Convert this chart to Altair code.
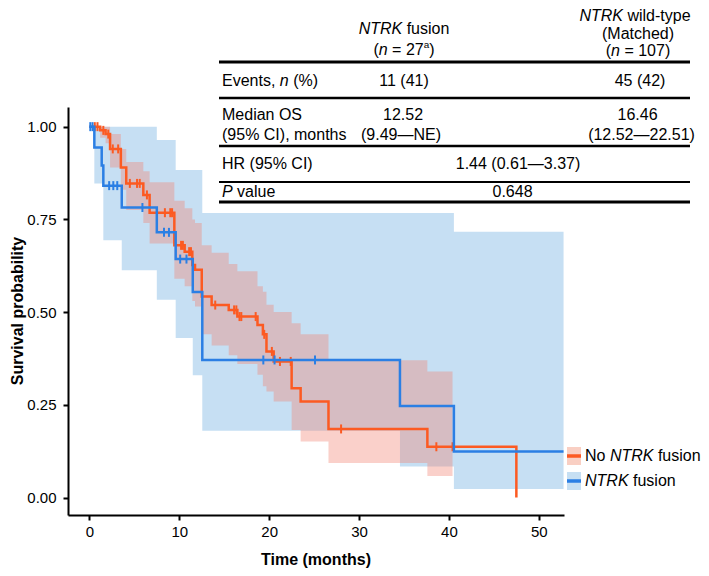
import altair as alt
import pandas as pd

FONT = "Liberation Sans"
ORANGE = "#FC5A22"
BLUE = "#2B7FE4"
BLUE_CI = "#C6DFF3"
ORANGE_CI = "#F2806E"
ORANGE_CI_ALPHA = 0.37

# ---------------- data ----------------
# NTRK fusion (blue) Kaplan-Meier step function
fus_time = [0.0, 0.55, 1.37, 1.55, 3.6, 7.5, 9.6, 11.5, 12.56, 34.55, 40.55, 52.75]
fus_surv = [1.0, 0.944, 0.895, 0.841, 0.782, 0.715, 0.643, 0.554, 0.371, 0.247, 0.124, 0.124]
fus_lower = [1.0, 0.847, 0.847, 0.694, 0.613, 0.533, 0.43, 0.33, 0.18, 0.084, 0.023, 0.023]
fus_upper = [1.0, 1.0, 1.0, 1.0, 1.0, 0.964, 0.883, 0.883, 0.767, 0.767, 0.717, 0.717]
fus_cens_time = [0.1, 0.35, 2.2, 2.66, 3.1, 5.9, 8.3, 8.85, 10.1, 10.8, 19.35, 20.6, 25.1]
fus_cens_surv = [1.0, 1.0, 0.841, 0.841, 0.841, 0.782, 0.715, 0.715, 0.643, 0.643, 0.371, 0.371, 0.371]

# No NTRK fusion (orange) Kaplan-Meier step function
nof_time = [0.0, 1.2, 1.8, 2.3, 3.5, 4.1, 6.0, 6.7, 9.45, 10.6, 11.45, 11.75, 12.5, 13.6,
            15.5, 16.46, 18.7, 19.3, 19.7, 20.5, 22.5, 23.5, 26.6, 37.6, 47.5]
nof_surv = [1.0, 0.99, 0.98, 0.94, 0.89, 0.847, 0.816, 0.768, 0.68, 0.663, 0.627, 0.614, 0.542, 0.519,
            0.506, 0.488, 0.465, 0.44, 0.394, 0.367, 0.295, 0.259, 0.185, 0.137, 0.0]
nof_ci_time = [0.0, 1.2, 1.8, 2.3, 3.5, 4.1, 6.0, 6.7, 9.45, 10.6, 11.45, 11.75, 12.5, 13.6,
               15.5, 16.46, 18.7, 19.3, 19.7, 20.5, 22.5, 23.5, 26.6, 37.6, 40.4]
nof_lower = [1.0, 0.97, 0.955, 0.89, 0.83, 0.775, 0.74, 0.685, 0.59, 0.57, 0.53, 0.515, 0.44, 0.41,
             0.384, 0.36, 0.331, 0.30, 0.286, 0.259, 0.182, 0.151, 0.093, 0.058, 0.058]
nof_upper = [1.0, 1.0, 1.0, 0.98, 0.94, 0.905, 0.88, 0.85, 0.80, 0.78, 0.75, 0.74, 0.68, 0.66,
             0.63, 0.61, 0.57, 0.555, 0.52, 0.50, 0.47, 0.44, 0.37, 0.34, 0.34]
nof_cens_time = [0.6, 0.9, 1.55, 2.1, 2.6, 3.2, 4.5, 5.3, 5.6, 6.4, 8.4, 9.0, 9.2, 10.2, 10.4, 11.1, 11.3,
                 14.0, 16.1, 16.35, 16.7, 16.9, 18.5, 19.45, 20.3, 21.2, 22.4, 28.0, 38.6, 40.4]
nof_cens_surv = [1.0, 1.0, 0.99, 0.98, 0.94, 0.94, 0.847, 0.847, 0.847, 0.816, 0.768, 0.768, 0.768, 0.68, 0.68,
                 0.663, 0.663, 0.519, 0.506, 0.506, 0.488, 0.488, 0.488, 0.44, 0.394, 0.367, 0.367, 0.185,
                 0.137, 0.137]

x_ticks = [0, 10, 20, 30, 40, 50]
y_ticks = [0.0, 0.25, 0.5, 0.75, 1.0]

# table text
col_heads_1 = [[("NTRK", "i"), (" fusion", "n")], [("(", "n"), ("n", "i"), (" = 27", "n"), ("a", "s"), (")", "n")]]
col_heads_2 = [[("NTRK", "i"), (" wild-type", "n")], [("(Matched)", "n")], [("(", "n"), ("n", "i"), (" = 107)", "n")]]
row_labels = [[("Events, ", "n"), ("n", "i"), (" (%)", "n")],
              [("Median OS", "n")], [("(95% CI), months", "n")],
              [("HR (95% CI)", "n")],
              [("P", "i"), (" value", "n")]]
col1_values = ["11 (41)", "12.52", "(9.49\u2014NE)"]
col2_values = ["45 (42)", "16.46", "(12.52\u201422.51)"]
shared_values = ["1.44 (0.61\u20143.37)", "0.648"]
legend_items = [[("No ", "n"), ("NTRK", "i"), (" fusion", "n")], [("NTRK", "i"), (" fusion", "n")]]

# ---------------- layout helpers (pixel positions of the page) ----------------
OX, OY = 68, 107          # page position of the plot origin
W, H = 496, 408

ARIAL = {' ': 278, '(': 333, ')': 333, '%': 889, ',': 278, '-': 333, '.': 278, '=': 584, '\u2014': 1000,
         'A': 667, 'C': 722, 'E': 667, 'H': 722, 'I': 278, 'K': 667, 'M': 833, 'N': 722, 'O': 778,
         'P': 667, 'R': 722, 'S': 667, 'T': 611,
         'a': 556, 'b': 556, 'c': 500, 'd': 556, 'e': 556, 'f': 278, 'g': 556, 'h': 556, 'i': 222,
         'k': 500, 'l': 222, 'm': 833, 'n': 556, 'o': 556, 'p': 556, 'r': 333, 's': 500, 't': 278,
         'u': 556, 'v': 500, 'w': 722, 'y': 500}
for d in "0123456789":
    ARIAL[d] = 556


def tw(s, size):
    return sum(ARIAL.get(c, 556) for c in s) * size / 1000.0


def text_layer(s, px, py, size=16, style="normal", weight="normal", align="left", angle=0):
    return alt.Chart(pd.DataFrame({"label": [s]})).mark_text(
        font=FONT, fontSize=size, fontStyle=style, fontWeight=weight, align=align,
        baseline="middle", angle=angle, color="black"
    ).encode(x=alt.value(px - OX), y=alt.value(py - OY), text="label:N")


def rich_line(segs, px, py, size=16, anchor="left"):
    sup = size * 0.62
    widths = [tw(t, sup if st == "s" else size) for t, st in segs]
    total = sum(widths)
    x = px if anchor == "left" else px - total / 2.0
    layers = []
    for (t, st), w in zip(segs, widths):
        lead = len(t) - len(t.lstrip(" "))
        xs = x + tw(" " * lead, size)
        s = t.strip(" ")
        if s:
            if st == "s":
                layers.append(text_layer(s, xs, py - size * 0.3, size=sup))
            else:
                layers.append(text_layer(s, xs, py, size=size, style="italic" if st == "i" else "normal"))
        x += w
    return layers


def rule_layer(x1, x2, py, w, color="black"):
    return alt.Chart(pd.DataFrame({"k": [0]})).mark_rule(color=color, strokeWidth=w).encode(
        x=alt.value(x1 - OX), x2=alt.value(x2 - OX), y=alt.value(py - OY))


def rect_layer(x1, x2, y1, y2, color):
    return alt.Chart(pd.DataFrame({"k": [0]})).mark_rect(color=color).encode(
        x=alt.value(x1 - OX), x2=alt.value(x2 - OX), y=alt.value(y1 - OY), y2=alt.value(y2 - OY))


# ---------------- plot ----------------
x_scale = alt.Scale(domain=[-2.38, 52.8], nice=False, zero=False)
y_scale = alt.Scale(domain=[-0.047, 1.053], nice=False, zero=False)
axis_common = dict(title=None, grid=False, domainColor="black", domainWidth=2, tickColor="black",
                   tickWidth=2, tickSize=5, labelFont=FONT, labelFontSize=15, labelColor="black")
X = lambda f: alt.X(f, type="quantitative", scale=x_scale,
                    axis=alt.Axis(values=x_ticks, format="d", labelPadding=4, **axis_common))
Y = lambda f: alt.Y(f, type="quantitative", scale=y_scale,
                    axis=alt.Axis(values=y_ticks, format=".2f", labelPadding=7, **axis_common))

fus_df = pd.DataFrame({"time": fus_time, "surv": fus_surv, "lower": fus_lower, "upper": fus_upper})
nof_df = pd.DataFrame({"time": nof_time, "surv": nof_surv})
nof_ci = pd.DataFrame({"time": nof_ci_time, "lower": nof_lower, "upper": nof_upper})
fus_c = pd.DataFrame({"time": fus_cens_time, "surv": fus_cens_surv})
nof_c = pd.DataFrame({"time": nof_cens_time, "surv": nof_cens_surv})

blue_ci = alt.Chart(fus_df).mark_area(interpolate="step-after", color=BLUE_CI, opacity=1).encode(
    x=X("time"), y=Y("lower"), y2="upper")
orange_ci = alt.Chart(nof_ci).mark_area(interpolate="step-after", color=ORANGE_CI,
                                         opacity=ORANGE_CI_ALPHA).encode(
    x=X("time"), y=Y("lower"), y2="upper")
orange_line = alt.Chart(nof_df).mark_line(interpolate="step-after", color=ORANGE, strokeWidth=2.5).encode(
    x=X("time"), y=Y("surv"))
blue_line = alt.Chart(fus_df).mark_line(interpolate="step-after", color=BLUE, strokeWidth=2.5).encode(
    x=X("time"), y=Y("surv"))
orange_cens = alt.Chart(nof_c).mark_tick(orient="vertical", color=ORANGE, size=9, thickness=2, opacity=1).encode(
    x=X("time"), y=Y("surv"))
blue_cens = alt.Chart(fus_c).mark_tick(orient="vertical", color=BLUE, size=9, thickness=2, opacity=1).encode(
    x=X("time"), y=Y("surv"))

layers = [blue_ci, orange_ci, orange_line, orange_cens, blue_line, blue_cens]

# axis titles
layers.append(text_layer("Time (months)", OX + W / 2, 560, size=16, weight="bold", align="center"))
layers.append(text_layer("Survival probability", 18, OY + H / 2, size=16, weight="bold", align="center", angle=270))

# table
C1, C2 = 404, 638
LX = 222
layers += rich_line(col_heads_1[0], C1, 29, anchor="center")
layers += rich_line(col_heads_1[1], C1, 50, anchor="center")
layers += rich_line(col_heads_2[0], 635, 16, anchor="center")
layers += rich_line(col_heads_2[1], C2, 33.5, anchor="center")
layers += rich_line(col_heads_2[2], C2, 51, anchor="center")
layers += rich_line(row_labels[0], LX, 81)
layers += rich_line(row_labels[1], LX, 115)
layers += rich_line(row_labels[2], LX, 135)
layers += rich_line(row_labels[3], LX, 164)
layers += rich_line(row_labels[4], LX, 192)
layers.append(text_layer(col1_values[0], C1, 81, align="center"))
layers.append(text_layer(col1_values[1], 403, 115, align="center"))
layers.append(text_layer(col1_values[2], 401, 135, align="center"))
layers.append(text_layer(col2_values[0], 640, 81, align="center"))
layers.append(text_layer(col2_values[1], 637.5, 115, align="center"))
layers.append(text_layer(col2_values[2], 641.5, 135, align="center"))
layers.append(text_layer(shared_values[0], 518, 164, align="center"))
layers.append(text_layer(shared_values[1], 512.5, 192, align="center"))
for ry, rw in [(62, 3), (98, 2.5), (146, 2.5), (182, 2), (202, 3)]:
    layers.append(rule_layer(219, 690, ry, rw))

# legend
layers.append(rect_layer(567, 581, 447, 465, "#F9CFC3"))
layers.append(rule_layer(567, 581, 456, 3.5, ORANGE))
layers.append(rect_layer(567, 581, 472, 490, BLUE_CI))
layers.append(rule_layer(567, 581, 481, 3.5, BLUE))
layers += rich_line(legend_items[0], 585, 456)
layers += rich_line(legend_items[1], 585, 481)

chart = alt.layer(*layers).properties(
    width=W, height=H,
    autosize=alt.AutoSizeParams(type="none"),
    padding={"left": OX - 8, "top": OY - 8, "right": 693 - (OX - 8) - W, "bottom": 560 - (OY - 8) - H},
    background="white",
).configure_view(strokeWidth=0)

chart.save("out.html", embed_options={"renderer": "svg", "actions": False})
